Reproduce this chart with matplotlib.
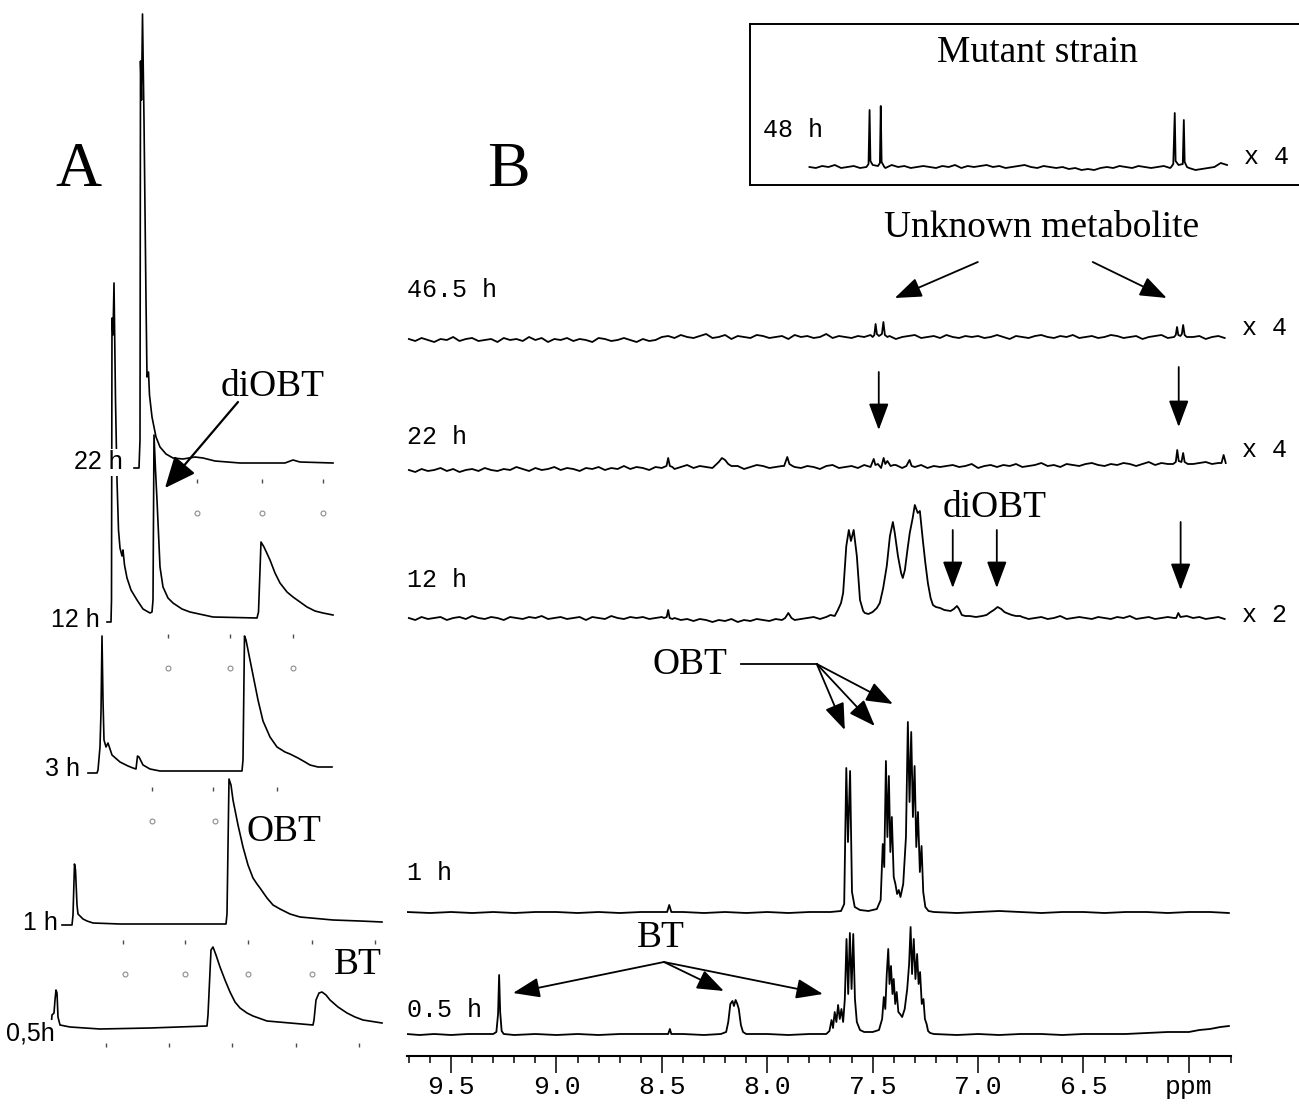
import numpy as np
import matplotlib
matplotlib.use('Agg')
import matplotlib.pyplot as plt

SERIF = ['Liberation Serif', 'DejaVu Serif']
MONO = ['Liberation Mono', 'DejaVu Sans Mono']
NARROW = ['Liberation Sans Narrow', 'DejaVu Sans Condensed', 'Liberation Sans']

# ---------------- panel A : stacked traces (retention, signal) ----------------
a_labels = ['22 h', '12 h', '3 h', '1 h', '0,5h']

a_22h = [(134, -5), (139, -5), (140, 23), (140.5, 402), (141.5, 363), (142.5, 449), (144, 343),
         (146, 163), (147, 86), (148.5, 91), (149.5, 68), (152, 46), (156, 26), (160, 16),
         (166, 9), (173, 5), (183, 4), (195, 6), (203, 5), (215, 2), (240, 0), (265, 0),
         (285, 0), (293, 3), (300, 1), (333, 0)]
a_12h = [(107, -4), (111, -4), (111.5, 18), (112, 300), (113, 283), (114, 335), (115.5, 218),
         (117, 138), (118.5, 88), (120, 70), (122, 62), (123, 68), (124.5, 53), (127, 40),
         (131, 28), (137, 18), (143, 9), (150, 5), (152, 6), (153, 18), (154, 183), (155.5, 148),
         (157, 118), (160, 51), (163, 31), (168, 20), (173, 15), (182, 9), (190, 6), (213, 1),
         (257, 0), (258.5, 6), (261, 76), (264, 71), (270, 58), (275, 45), (280, 35), (287, 26),
         (293, 21), (300, 16), (307, 11), (315, 7), (323, 5), (333, 3)]
a_3h = [(88, -2), (97, -2), (98, 1), (100, 24), (101, 59), (102, 135), (103, 71), (104, 31),
        (106, 24), (108, 28), (112, 16), (120, 9), (128, 5), (133, 3), (136, 2), (137.5, 15),
        (139, 14), (143, 6), (150, 2), (160, 0), (242, 0), (243, 11), (244.5, 135), (246, 131),
        (249, 116), (253, 96), (258, 71), (263, 50), (270, 34), (277, 24), (285, 19), (290, 17),
        (298, 13), (305, 9), (310, 6), (318, 4), (332, 4)]
a_1h = [(62, -1), (72, -1), (73, 9), (74.5, 60), (75.5, 54), (77, 19), (78, 10), (83, 5), (87, 3),
        (93, 1), (120, 0), (226, 0), (227, 10), (229, 145), (231, 139), (233, 124), (238, 99),
        (243, 77), (248, 59), (253, 46), (257, 40), (260, 36), (267, 26), (273, 19), (280, 15),
        (290, 10), (300, 7), (333, 4), (360, 3), (382, 2)]
a_05h = [(51, -1), (52, 12), (54, 14), (55, 27), (56, 37), (57, 34), (58, 10), (60, 2), (70, 0),
         (100, -2), (150, -1), (207, 1), (208, 12), (211, 77), (213, 80), (216, 72), (220, 60),
         (225, 47), (230, 35), (235, 25), (240, 19), (247, 14), (253, 11), (267, 6), (290, 4),
         (313, 2), (314, 7), (316, 27), (319, 34), (322, 35), (326, 32), (330, 27), (338, 20),
         (347, 14), (355, 10), (363, 7), (382, 4)]
a_ticks = [[197, 262, 323], [168, 230, 293], [152, 213, 277],
           [123, 185, 248, 312, 375], [106, 169, 232, 296, 359]]
a_marks = [[197, 262, 323], [168, 230, 293], [152, 215], [125, 185, 248, 312], []]

# ---------------- panel B : 1H NMR spectra (ppm, intensity) ----------------
grid = np.round(9.70 - 0.03 * np.arange(130), 2)
grid48 = np.round(7.80 - 0.03 * np.arange(67), 2)

noise_465 = [-2, -4, -1, -3, -5, -2, -3, 0, -4, -2, -1, -4, -3, -2, -5, -1, -3, -2, -4, 0,
             -3, -1, -5, -2, -3, -1, -4, -2, -3, -5, -1, -2, -4, -3, -1, -3, -5, -2, -4, -3,
             0, 1, -1, 2, 0, -1, 1, 3, -1, 0, 2, -2, 1, 0, -1, 2, 1, -1, 0, 1,
             -2, 2, 0, 1, -1, 0, 3, -1, 1, 0, -1, 1, 0, 2, -1, 0, 1, -2, 0, 1,
             2, -1, 0, 1, -1, 2, 0, -1, 1, 0, 1, -1, 0, 2, 0, -2, 1, 0, -1, 1,
             2, 0, -1, 1, 0, 2, -1, 0, 1, -1, 0, 2, 1, -1, 0, 1, -2, 0, 1, 2,
             -1, 0, 1, -1, 0, 1, -2, 0, 1, -1]
noise_22 = [-3, -5, -2, -4, -3, -1, -4, -2, -5, -3, -2, -4, -1, -3, -4, -2, -3, 0, -2, -4,
            -1, -3, -2, 0, -3, -1, -2, -4, -1, -2, 0, -3, -1, -2, 1, -2, 0, -1, -3, 0,
            -1, 1, -2, 0, 2, -1, 1, 0, -1, 3, 0, -1, 1, -2, 0, 2, 1, -1, 0, 1,
            3, 0, -1, 1, 0, -2, 1, 2, -1, 0, 1, -1, 2, 0, 1, -1, 0, 2, -1, 1,
            0, 2, -1, 1, 0, 1, 2, 0, 1, 3, -1, 1, 2, 0, 2, 1, 3, 0, 1, 2,
            4, 1, 2, 0, 3, 2, 1, 3, 4, 2, 1, 3, 2, 4, 3, 1, 3, 5, 2, 4,
            3, 2, 4, 6, 3, 4, 5, 3, 4, 3]
noise_12 = [0, -2, 1, -1, 0, 1, -2, 0, 1, -1, 2, 0, -1, 1, 0, -2, 1, 0, -1, 1,
            0, 2, -1, 0, 1, -1, 0, 1, -2, 1, 0, -1, 2, 0, -1, 1, 0, 1, -1, 0,
            1, -1, 0, -2, -1, -3, -1, -2, -4, -2, -3, -1, -4, -2, -3, -1, -2, -3, -1, -2,
            0, -2, -1, 0, 1, -1, 0, 2, 0, 1, 0, 0, 0, 0, 0, 0, 0, 0, 0, 0,
            0, 0, 0, 0, 0, 0, 0, 0, 0, 0, 0, 0, 0, 0, 0, 0, 0, 1, -1, 0,
            1, -1, 0, 2, -1, 0, 1, 0, -1, 1, 0, -1, 1, 0, 2, -1, 0, 1, -1, 0,
            1, 0, -1, 2, 0, 1, -1, 0, 1, -1]
noise_48 = [0, -1, 1, 0, 2, -1, 0, 1, -1, 0, 1, 0, -1, 2, 0, 1, -1, 0, 1, 0,
            -1, 1, 0, 2, -1, 1, 0, 1, 2, 0, 1, -1, 0, 1, 2, 0, -1, 1, 0, -1,
            0, -2, -1, -3, -2, -3, -1, 0, -1, 1, 0, -1, 1, 0, -1, 0, 1, -1, 0, 1,
            -1, -3, -2, -1, 0, 4, 2]

peaks_465 = [[(7.50, 0), (7.492, 2), (7.486, 13), (7.48, 3), (7.47, 1), (7.456, 3), (7.449, 15),
              (7.442, 2), (7.43, 0)],
             [(6.07, 0), (6.062, 2), (6.056, 10), (6.05, 2), (6.04, 1), (6.033, 3), (6.027, 12),
              (6.02, 2), (6.01, 0)]]
peaks_22 = [[(8.49, 0), (8.478, 1), (8.47, 9), (8.462, 1), (8.45, 0)],
            [(8.25, 1), (8.23, 5), (8.215, 9), (8.20, 7), (8.185, 3), (8.17, 1)],
            [(7.92, 1), (7.905, 10), (7.895, 3), (7.88, 1)],
            [(7.51, 0), (7.495, 8), (7.487, 2), (7.475, 3), (7.46, -1), (7.448, 9), (7.44, 3),
             (7.43, 6), (7.415, 1), (7.40, 2)],
            [(7.34, 1), (7.325, 7), (7.315, 1)],
            [(6.075, 3), (6.062, 5), (6.055, 17), (6.048, 6), (6.035, 5), (6.027, 14), (6.02, 5),
             (6.005, 3)],
            [(5.845, 4), (5.835, 12), (5.825, 4)]]
peaks_12 = [[(8.49, 0), (8.477, 1), (8.47, 8), (8.463, 0), (8.45, -1)],
            [(7.915, 0), (7.90, 5), (7.885, 0)],
            [(7.72, 1), (7.70, 3), (7.68, 2), (7.665, 8), (7.65, 15), (7.64, 25), (7.625, 72),
             (7.613, 88), (7.603, 77), (7.59, 88), (7.575, 62), (7.56, 18), (7.545, 7), (7.537, 5),
             (7.52, 4), (7.50, 6), (7.48, 10), (7.466, 15), (7.45, 30), (7.433, 52), (7.418, 82),
             (7.404, 96), (7.395, 85), (7.38, 62), (7.365, 45), (7.357, 40), (7.347, 48),
             (7.335, 68), (7.324, 85), (7.31, 100), (7.30, 113), (7.286, 105), (7.276, 107),
             (7.262, 78), (7.25, 55), (7.238, 35), (7.225, 20), (7.214, 13), (7.20, 11), (7.18, 10),
             (7.16, 8), (7.13, 7), (7.115, 9), (7.10, 12), (7.09, 9), (7.077, 3), (7.06, 2),
             (7.04, 2), (7.01, 1), (6.98, 2), (6.96, 3), (6.94, 6), (6.925, 8), (6.907, 11),
             (6.89, 9), (6.875, 6), (6.865, 5), (6.84, 3), (6.82, 2), (6.80, 2)],
            [(6.06, 0), (6.05, 5), (6.04, 1)]]
spec_1h = [(9.71, 0), (9.60, -1), (9.50, 0), (9.40, -1), (9.30, 0), (9.20, -1), (9.10, 0), (9.00, 0),
           (8.90, -1), (8.80, 0), (8.70, -1), (8.60, 0), (8.50, 0), (8.475, 0), (8.465, 7), (8.455, 0),
           (8.40, 0), (8.30, -1), (8.20, 0), (8.10, -1), (8.00, 0), (7.90, -1), (7.80, 0), (7.70, 0),
           (7.65, 1), (7.635, 8), (7.625, 144), (7.617, 70), (7.607, 141), (7.598, 20), (7.585, 5),
           (7.56, 2), (7.52, 1), (7.48, 3), (7.462, 12), (7.452, 68), (7.445, 45), (7.437, 151),
           (7.43, 75), (7.423, 136), (7.416, 60), (7.409, 95), (7.40, 35), (7.392, 28), (7.384, 18),
           (7.376, 22), (7.368, 15), (7.355, 28), (7.342, 75), (7.333, 190), (7.325, 110),
           (7.317, 180), (7.309, 95), (7.301, 146), (7.293, 65), (7.285, 100), (7.276, 40),
           (7.268, 66), (7.26, 20), (7.25, 5), (7.235, 1), (7.21, 0), (7.10, -1), (7.00, 0),
           (6.90, 1), (6.80, 0), (6.70, -1), (6.60, 0), (6.50, 0), (6.40, -1), (6.30, 0), (6.20, 0),
           (6.10, -1), (6.00, 0), (5.90, 0), (5.81, -1)]
spec_05h = [(9.71, 0), (9.65, -1), (9.58, 0), (9.50, -1), (9.42, 0), (9.35, 0), (9.30, 0), (9.285, 2),
            (9.277, 20), (9.272, 59), (9.267, 22), (9.26, 3), (9.25, 0), (9.20, -1), (9.10, 0),
            (9.00, -1), (8.90, 0), (8.80, -1), (8.70, 0), (8.60, 0), (8.50, 0), (8.47, 0), (8.462, 5),
            (8.455, 0), (8.40, 0), (8.30, -1), (8.22, 0), (8.195, 2), (8.185, 12), (8.175, 30),
            (8.165, 33), (8.158, 28), (8.15, 34), (8.142, 30), (8.135, 25), (8.125, 9), (8.115, 2),
            (8.10, 0), (8.00, 0), (7.90, -1), (7.80, 0), (7.72, 0), (7.705, 3), (7.695, 14),
            (7.688, 6), (7.68, 22), (7.672, 12), (7.664, 29), (7.656, 15), (7.648, 25), (7.64, 12),
            (7.632, 35), (7.624, 95), (7.616, 40), (7.608, 101), (7.60, 45), (7.592, 100),
            (7.584, 35), (7.575, 12), (7.56, 4), (7.54, 2), (7.50, 2), (7.47, 4), (7.455, 15),
            (7.447, 37), (7.44, 25), (7.433, 60), (7.426, 85), (7.42, 50), (7.413, 68), (7.406, 40),
            (7.40, 55), (7.393, 30), (7.386, 42), (7.378, 22), (7.37, 20), (7.36, 17), (7.348, 25),
            (7.336, 45), (7.327, 70), (7.32, 107), (7.313, 60), (7.305, 95), (7.297, 55), (7.289, 80),
            (7.282, 50), (7.275, 62), (7.267, 30), (7.259, 35), (7.252, 15), (7.244, 10), (7.237, 3),
            (7.227, 1), (7.21, 0), (7.10, -1), (7.00, 0), (6.90, -1), (6.80, 0), (6.70, 0), (6.60, -1),
            (6.50, 0), (6.40, 0), (6.30, 0), (6.20, 1), (6.10, 2), (6.00, 2), (5.95, 4), (5.90, 5),
            (5.85, 7), (5.81, 8)]
peaks_48 = [[(7.53, 0), (7.52, 3), (7.515, 57), (7.511, 6), (7.50, 2), (7.475, 1), (7.466, 4),
             (7.462, 61), (7.458, 5), (7.445, 0)],
            [(6.085, 0), (6.075, 3), (6.068, 54), (6.064, 6), (6.05, 2), (6.03, 3), (6.025, 47),
             (6.021, 5), (6.01, 0)]]

b_labels = ['46.5 h', '22 h', '12 h', '1 h', '0.5 h']
b_scale = ['x 4', 'x 4', 'x 2']
ppm_ticks = [9.5, 9.0, 8.5, 8.0, 7.5, 7.0, 6.5, 6.0]
ppm_ticklabels = ['9.5', '9.0', '8.5', '8.0', '7.5', '7.0', '6.5', 'ppm']


def spectrum(noise, groups, g):
    g = np.asarray(g, float)
    n = np.asarray(noise, float)
    keep = np.ones(len(g), bool)
    xs, ys = [], []
    for grp in groups:
        p = [a for a, b in grp]
        keep &= ~((g <= max(p)) & (g >= min(p)))
        xs += p
        ys += [b for a, b in grp]
    xs = np.concatenate([g[keep], xs])
    ys = np.concatenate([n[keep], ys])
    o = np.argsort(-xs)
    return xs[o], ys[o]


W, H = 1299, 1110
fig = plt.figure(figsize=(W / 100, H / 100), dpi=100)

# ---- panel A ----
ax_a = fig.add_axes([0, 0, 400 / W, 1])
ax_a.set_xlim(0, 400)
ax_a.set_ylim(0, H)
ax_a.axis('off')
a_base = [647, 492, 339, 186, 83]
a_lab_x = [123, 100, 80, 58, 55]
a_lab_dy = [1, -2, 2, 1, -6]
for tr, b, lab, lx, dy, tk, mk in zip([a_22h, a_12h, a_3h, a_1h, a_05h], a_base, a_labels,
                                      a_lab_x, a_lab_dy, a_ticks, a_marks):
    x = [p[0] for p in tr]
    y = [p[1] + b for p in tr]
    ax_a.plot(x, y, color='k', lw=1.2, zorder=2)
    ax_a.text(lx, b + dy, lab, ha='right', va='center', fontsize=18, family=NARROW,
              zorder=4, bbox=dict(facecolor='white', edgecolor='none', pad=1))
    ax_a.vlines(tk, b - 20, b - 16, color='0.3', lw=1)
    if mk:
        ax_a.plot(mk, [b - 50] * len(mk), ls='none', marker='o', ms=3.5, mfc='none',
                  mec='0.55', mew=0.8)

ax_a.text(78, 939, 'A', fontsize=46, family=SERIF, ha='center', va='center')
ax_a.text(273, 723, 'diOBT', fontsize=27, family=SERIF, ha='center', va='center')
ax_a.text(284, 278, 'OBT', fontsize=27, family=SERIF, ha='center', va='center')
ax_a.text(358, 145, 'BT', fontsize=27, family=SERIF, ha='center', va='center')
ax_a.annotate('', xy=(165, 622), xytext=(238, 708),
              arrowprops=dict(arrowstyle='-|>,head_length=0.8,head_width=0.35', color='k',
                              lw=1.6, shrinkA=0, shrinkB=0, mutation_scale=24))

# ---- panel B ----
ax_b = fig.add_axes([407 / W, (H - 1056) / H, 824 / W, 1056 / H])
ax_b.set_xlim(9.709, 5.802)
ax_b.set_ylim(0, 1056)
for s in ['top', 'left', 'right']:
    ax_b.spines[s].set_visible(False)
ax_b.spines['bottom'].set_linewidth(1.5)
ax_b.set_yticks([])
ax_b.set_xticks(ppm_ticks)
ax_b.set_xticklabels(ppm_ticklabels, fontsize=19, family=MONO)
ax_b.set_xticks(np.round(np.arange(9.7, 5.79, -0.1), 1), minor=True)
ax_b.tick_params(axis='x', which='major', length=12, width=1.1, pad=2)
ax_b.tick_params(axis='x', which='minor', length=5, width=1.1)
ax_b.patch.set_alpha(0)

traces = [spectrum(noise_465, peaks_465, grid),
          spectrum(noise_22, peaks_22, grid),
          spectrum(noise_12, peaks_12, grid),
          (np.array([p[0] for p in spec_1h]), np.array([p[1] for p in spec_1h], float)),
          (np.array([p[0] for p in spec_05h]), np.array([p[1] for p in spec_05h], float))]
b_base = [719, 589, 438, 144, 22]
b_lab_y = [766, 619, 476, 183, 46]
for (x, y), b, lab, ly in zip(traces, b_base, b_labels, b_lab_y):
    ax_b.plot(x, y + b, color='k', lw=1.3)
    ax_b.text(9.709, ly, lab, fontsize=18, family=MONO, ha='left', va='center')
for lab, ly in zip(b_scale, [728, 606, 441]):
    ax_b.text(5.749, ly, lab, fontsize=18, family=MONO, ha='left', va='center')

ax_b.text(9.23, 885, 'B', fontsize=46, family=SERIF, ha='center', va='center')

arrow = dict(arrowstyle='-|>,head_length=0.75,head_width=0.28', color='k', lw=1.3,
             shrinkA=0, shrinkB=0, mutation_scale=22)
ax_b.text(6.698, 828, 'Unknown metabolite', fontsize=27, family=SERIF, ha='center', va='center')
ax_b.annotate('', xy=(7.395, 758), xytext=(7.001, 794), arrowprops=arrow)
ax_b.annotate('', xy=(6.105, 758), xytext=(6.456, 794), arrowprops=arrow)
ax_b.annotate('', xy=(7.471, 626), xytext=(7.471, 684), arrowprops=arrow)
ax_b.annotate('', xy=(6.048, 629), xytext=(6.048, 689), arrowprops=arrow)
ax_b.text(6.92, 548, 'diOBT', fontsize=27, family=SERIF, ha='center', va='center')
ax_b.annotate('', xy=(7.120, 468), xytext=(7.120, 526), arrowprops=arrow)
ax_b.annotate('', xy=(6.911, 468), xytext=(6.911, 526), arrowprops=arrow)
ax_b.annotate('', xy=(6.039, 466), xytext=(6.039, 534), arrowprops=arrow)

ax_b.text(8.367, 391, 'OBT', fontsize=27, family=SERIF, ha='center', va='center')
ax_b.plot([8.125, 7.765], [392, 392], color='k', lw=1.3)
for tip in [(7.632, 326), (7.490, 330), (7.404, 352)]:
    ax_b.annotate('', xy=tip, xytext=(7.765, 392), arrowprops=arrow)

ax_b.text(8.504, 118, 'BT', fontsize=27, family=SERIF, ha='center', va='center')
for tip in [(9.206, 63), (8.206, 65), (7.736, 62)]:
    ax_b.annotate('', xy=tip, xytext=(8.490, 94), arrowprops=arrow)

# ---- inset : mutant strain ----
ax_i = fig.add_axes([750 / W, (H - 185) / H, 549 / W, 161 / H])
ax_i.set_xlim(8.082, 8.082 - 549 / 210.9)
ax_i.set_ylim(0, 161)
ax_i.set_xticks([])
ax_i.set_yticks([])
for s in ['top', 'left', 'bottom']:
    ax_i.spines[s].set_linewidth(1.4)
ax_i.spines['right'].set_visible(False)
xi, yi = spectrum(noise_48, peaks_48, grid48)
ax_i.plot(xi, yi + 18, color='k', lw=1.3)
ax_i.text(0.523, 0.82, 'Mutant strain', transform=ax_i.transAxes, fontsize=27, family=SERIF,
          ha='center', va='center')
ax_i.text(0.024, 0.34, '48 h', transform=ax_i.transAxes, fontsize=18, family=MONO,
          ha='left', va='center')
ax_i.text(0.90, 0.174, 'x 4', transform=ax_i.transAxes, fontsize=18, family=MONO,
          ha='left', va='center')

fig.savefig('out.png', dpi=100)
